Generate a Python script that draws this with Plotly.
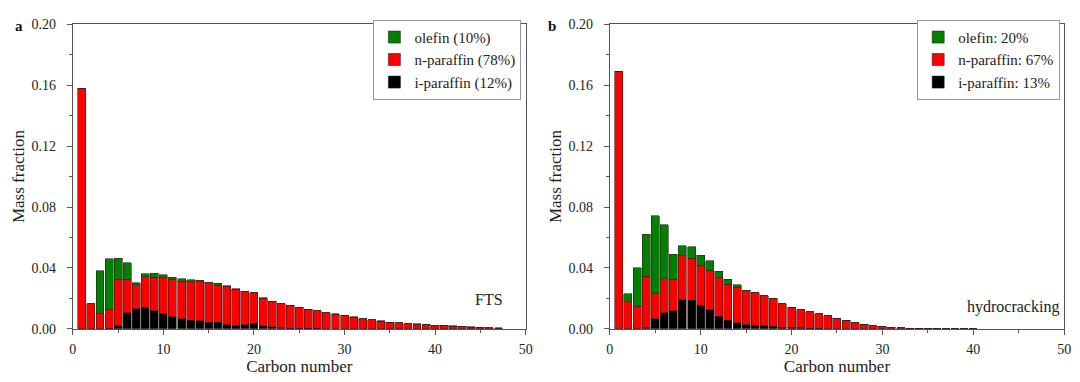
import plotly.graph_objects as go

# ---------------- data ----------------
carbon_a = list(range(1, 48))
iso_a = [0, 0, 0, 0.0005, 0.0020, 0.0105, 0.0132, 0.0141, 0.0120, 0.0099,
         0.0078, 0.0065, 0.0058, 0.0053, 0.0044, 0.0042, 0.0027, 0.0025, 0.0027, 0.0038,
         0.0020, 0.0015, 0.0008, 0.0005, 0.0004, 0.0003, 0.0003, 0.0002, 0.0002, 0.0002,
         0.0002, 0.0002, 0.0002, 0.0002, 0.0002, 0.0001, 0.0001, 0.0001, 0.0001, 0.0001,
         0.0001, 0.0001, 0.0001, 0.0001, 0.0001, 0.0001, 0.0001]
npar_a = [0.158, 0.0164, 0.0099, 0.0125, 0.0306, 0.0221, 0.0156, 0.0202, 0.0220, 0.0238,
          0.0244, 0.0246, 0.0252, 0.0257, 0.0259, 0.0245, 0.0252, 0.0236, 0.0217, 0.0198,
          0.0182, 0.0164, 0.0156, 0.0149, 0.0137, 0.0125, 0.0115, 0.0103, 0.0095, 0.0084,
          0.0074, 0.0063, 0.0057, 0.0049, 0.0041, 0.0038, 0.0032, 0.0030, 0.0027, 0.0023,
          0.0021, 0.0017, 0.0015, 0.0011, 0.0009, 0.0006, 0.0004]
olef_a = [0, 0, 0.0284, 0.0329, 0.0139, 0.0109, 0.0015, 0.0019, 0.0024, 0.0018,
          0.0017, 0.0019, 0.0014, 0.0010, 0.0004, 0.0012, 0.0005, 0.0002, 0.0002, 0.0002,
          0.0002, 0.0002, 0.0002, 0.0002, 0.0002, 0.0002, 0.0002, 0.0002, 0.0002, 0.0002,
          0.0002, 0.0002, 0.0002, 0.0002, 0.0002, 0.0001, 0.0001, 0.0001, 0.0001, 0.0001,
          0.0001, 0.0001, 0.0001, 0.0001, 0.0001, 0.0001, 0.0001]

carbon_b = list(range(1, 41))
iso_b = [0, 0, 0, 0.0006, 0.0065, 0.0107, 0.0118, 0.0196, 0.0187, 0.0156,
         0.0126, 0.0084, 0.0055, 0.0040, 0.0027, 0.0023, 0.0020, 0.0017, 0.0012, 0.0009,
         0.0006, 0.0004, 0.0003, 0.0002, 0.0002, 0.0001, 0.0001, 0.0001, 0.0001, 0.0001,
         0, 0, 0, 0, 0, 0, 0, 0, 0, 0]
npar_b = [0.169, 0.0179, 0.0147, 0.0341, 0.0166, 0.0221, 0.0208, 0.0283, 0.0276, 0.0260,
          0.0259, 0.0250, 0.0239, 0.0231, 0.0222, 0.0213, 0.0198, 0.0182, 0.0153, 0.0133,
          0.0119, 0.0109, 0.0095, 0.0083, 0.0066, 0.0055, 0.0040, 0.0030, 0.0019, 0.0015,
          0.0012, 0.0007, 0.0005, 0.0004, 0.0003, 0.0003, 0.0002, 0.0002, 0.0001, 0.0001]
olef_b = [0, 0.0052, 0.0253, 0.0273, 0.0511, 0.0355, 0.0164, 0.0068, 0.0077, 0.0068,
          0.0063, 0.0045, 0.0032, 0.0019, 0.0005, 0.0002, 0.0001, 0.0001, 0, 0,
          0, 0, 0, 0, 0, 0, 0, 0, 0, 0,
          0, 0, 0, 0, 0, 0, 0, 0, 0, 0]

names_a = ["i-paraffin (12%)", "n-paraffin (78%)", "olefin (10%)"]
names_b = ["i-paraffin: 13%", "n-paraffin: 67%", "olefin: 20%"]
colors = ["#000000", "#ff0000", "#008000"]

x_ticks = [0, 10, 20, 30, 40, 50]
y_ticks = [0.00, 0.04, 0.08, 0.12, 0.16, 0.20]

FONT = "Liberation Serif, Times New Roman, serif"
EDGE = "rgba(50,30,30,0.85)"

fig = go.Figure()
for series, name, col in zip([iso_a, npar_a, olef_a], names_a, colors):
    fig.add_trace(go.Bar(x=carbon_a, y=series, name=name, xaxis="x", yaxis="y",
                         marker=dict(color=col, line=dict(color=EDGE, width=0.7)),
                         legend="legend"))
for series, name, col in zip([iso_b, npar_b, olef_b], names_b, colors):
    fig.add_trace(go.Bar(x=carbon_b, y=series, name=name, xaxis="x2", yaxis="y2",
                         marker=dict(color=col, line=dict(color=EDGE, width=0.7)),
                         legend="legend2"))

axis_common = dict(showline=True, linecolor="#555", linewidth=1.2, mirror=True,
                   ticks="outside", ticklen=5, tickcolor="#555", tickwidth=1,
                   showgrid=False, zeroline=False,
                   tickfont=dict(family=FONT, size=14, color="#222"))
xcommon = dict(axis_common, range=[0, 50], tickvals=x_ticks,
               minor=dict(dtick=5, ticks="outside", ticklen=3, tickcolor="#555"),
               ticklabelstandoff=2,
               title=dict(text="Carbon number", font=dict(family=FONT, size=17, color="#222"),
                          standoff=2))
ycommon = dict(axis_common, range=[0, 0.2], tickvals=y_ticks, tickformat=".2f",
               minor=dict(dtick=0.02, ticks="outside", ticklen=3, tickcolor="#555"),
               ticklabelstandoff=8,
               title=dict(text="Mass fraction", font=dict(family=FONT, size=17, color="#222"),
                          standoff=2))

legend_common = dict(xanchor="right", yanchor="top", bgcolor="white",
                     bordercolor="#999", borderwidth=1,
                     font=dict(family=FONT, size=15, color="#222"),
                     tracegroupgap=0, traceorder="reversed", itemwidth=30)

fig.update_layout(
    width=1080, height=382,
    margin=dict(l=0, r=0, t=0, b=0),
    paper_bgcolor="white", plot_bgcolor="white",
    barmode="stack", bargap=0.12,
    font=dict(family=FONT, color="#222"),
    xaxis=dict(xcommon, domain=[0.0644, 0.488], anchor="y"),
    yaxis=dict(ycommon, domain=[0.123, 0.953], anchor="x"),
    xaxis2=dict(xcommon, domain=[0.5667, 0.9917], anchor="y2"),
    yaxis2=dict(ycommon, domain=[0.123, 0.953], anchor="x2"),
    legend=dict(legend_common, x=0.484, y=0.965),
    legend2=dict(legend_common, x=0.988, y=0.965),
    annotations=[
        dict(text="<b>a</b>", xref="paper", yref="paper", x=0.008, y=0.975,
             showarrow=False, font=dict(family=FONT, size=15, color="#111")),
        dict(text="<b>b</b>", xref="paper", yref="paper", x=0.513, y=0.975,
             showarrow=False, font=dict(family=FONT, size=15, color="#111")),
        dict(text="FTS", xref="x", yref="y", x=46, y=0.019, showarrow=False,
             font=dict(family=FONT, size=16, color="#222")),
        dict(text="hydrocracking", xref="x2", yref="y2", x=44.4, y=0.0145, showarrow=False,
             font=dict(family=FONT, size=16, color="#222")),
    ],
)

fig.write_html("out.html")
